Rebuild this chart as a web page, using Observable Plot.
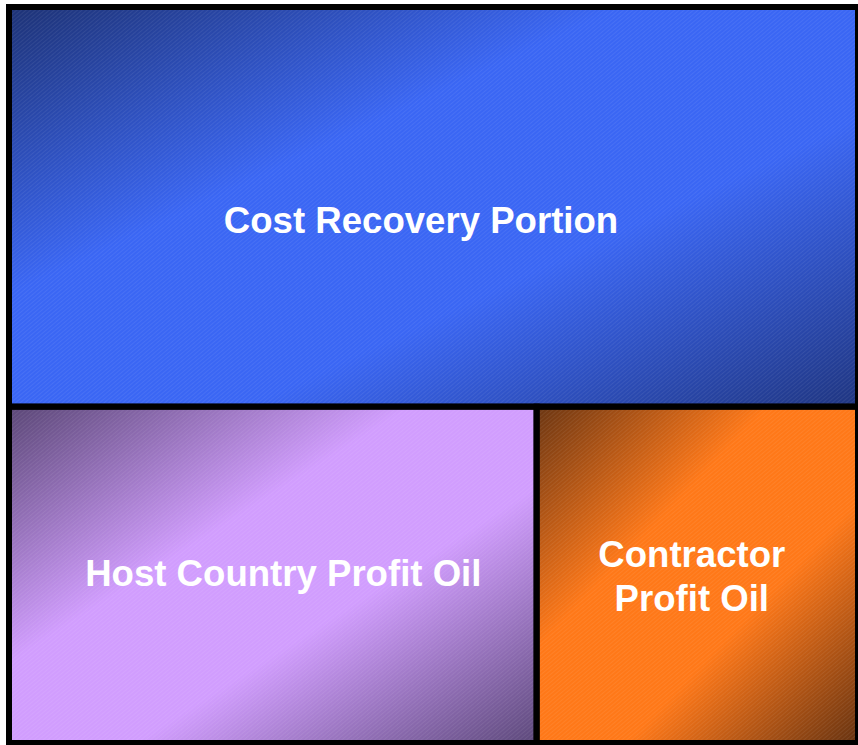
<!DOCTYPE html>
<html>
<head>
<meta charset="utf-8">
<script src="https://cdn.jsdelivr.net/npm/d3@7"></script>
<script src="https://cdn.jsdelivr.net/npm/@observablehq/plot@0.6"></script>
<style>
  html, body { margin: 0; padding: 0; background: #ffffff; }
  #chart { width: 858px; height: 745px; }
</style>
</head>
<body>
<div id="chart"></div>
<script>
// ---- data (shares of production, %) ----
const groups = ["Cost Recovery", "Profit Oil", "Profit Oil"];
const labels = ["Cost Recovery Portion", "Host Country Profit Oil", "Contractor\nProfit Oil"];
const values = [54.3, 28.4, 17.3];
const ids = ["blue", "purple", "orange"];

// gradient stops: dark corner, bright broad middle band, dark corner
const gradients = {
  blue:   [["0%", "#1d3275"], ["36%", "#3a66f4"], ["64%", "#3a66f4"], ["100%", "#1f3580"]],
  purple: [["0%", "#5a4676"], ["38%", "#d19dfe"], ["62%", "#d19dfe"], ["100%", "#5c487a"]],
  orange: [["0%", "#6a3512"], ["36%", "#ff7818"], ["64%", "#ff7818"], ["100%", "#663210"]]
};

// ---- hierarchy & slice/dice layout via d3.treemap ----
const rootData = {
  name: "root",
  children: [
    {name: labels[0], id: ids[0], value: values[0]},
    {name: "Profit Oil", children: [
      {name: labels[1], id: ids[1], value: values[1]},
      {name: labels[2], id: ids[2], value: values[2]}
    ]}
  ]
};
const root = d3.hierarchy(rootData).sum(d => d.children ? 0 : d.value);
d3.treemap()
  .size([1, 1])
  .round(false)
  .tile((node, x0, y0, x1, y1) =>
    node.depth === 0 ? d3.treemapSlice(node, x0, y0, x1, y1)
                     : d3.treemapDice(node, x0, y0, x1, y1))(root);
const leaves = root.leaves().map(l => ({
  label: l.data.name, id: l.data.id, x0: l.x0, x1: l.x1, y0: l.y0, y1: l.y1
}));

const textStyle = {fill: "white", fontSize: 36.6, fontWeight: "bold",
  fontFamily: "'Liberation Sans', Arial, Helvetica, sans-serif", lineHeight: 1.2};
const textOffsets = {blue: [-13, 12], purple: [10, -3], orange: [-6, 0]};

const marks = [];
leaves.forEach(l => {
  marks.push(Plot.rect([l], {x1: "x0", x2: "x1", y1: "y0", y2: "y1", fill: `url(#grad-${l.id})`}));
  marks.push(Plot.rect([l], {x1: "x0", x2: "x1", y1: "y0", y2: "y1", fill: "url(#hatch)"}));
});
leaves.forEach(l => {
  marks.push(Plot.rect([l], {x1: "x0", x2: "x1", y1: "y0", y2: "y1", fill: "none", stroke: "black", strokeWidth: 6}));
});
leaves.forEach(l => {
  const [dx, dy] = textOffsets[l.id];
  marks.push(Plot.text([l], {
    x: d => (d.x0 + d.x1) / 2, y: d => (d.y0 + d.y1) / 2, text: "label",
    textAnchor: "middle", lineAnchor: "middle", dx, dy, ...textStyle
  }));
});

const chart = Plot.plot({
  width: 858,
  height: 745,
  margin: 0,
  x: {domain: [0, 1], range: [9, 858], axis: null},
  y: {domain: [0, 1], range: [7, 743], axis: null},
  style: {background: "transparent", overflow: "visible"},
  marks
});

// ---- SVG defs: gradients + fine diagonal texture ----
const ns = "http://www.w3.org/2000/svg";
const defs = document.createElementNS(ns, "defs");
Object.entries(gradients).forEach(([id, stops]) => {
  const g = document.createElementNS(ns, "linearGradient");
  g.setAttribute("id", `grad-${id}`);
  g.setAttribute("x1", "0"); g.setAttribute("y1", "0");
  g.setAttribute("x2", "1"); g.setAttribute("y2", "1");
  stops.forEach(([off, c]) => {
    const s = document.createElementNS(ns, "stop");
    s.setAttribute("offset", off);
    s.setAttribute("stop-color", c);
    g.appendChild(s);
  });
  defs.appendChild(g);
});
const pat = document.createElementNS(ns, "pattern");
pat.setAttribute("id", "hatch");
pat.setAttribute("patternUnits", "userSpaceOnUse");
pat.setAttribute("width", "3");
pat.setAttribute("height", "3");
pat.setAttribute("patternTransform", "rotate(-40)");
const line = document.createElementNS(ns, "rect");
line.setAttribute("x", "0"); line.setAttribute("y", "0");
line.setAttribute("width", "3"); line.setAttribute("height", "1");
line.setAttribute("fill", "#ffffff");
line.setAttribute("fill-opacity", "0.07");
pat.appendChild(line);
defs.appendChild(pat);
chart.insertBefore(defs, chart.firstChild);

document.getElementById("chart").appendChild(chart);
</script>
</body>
</html>
